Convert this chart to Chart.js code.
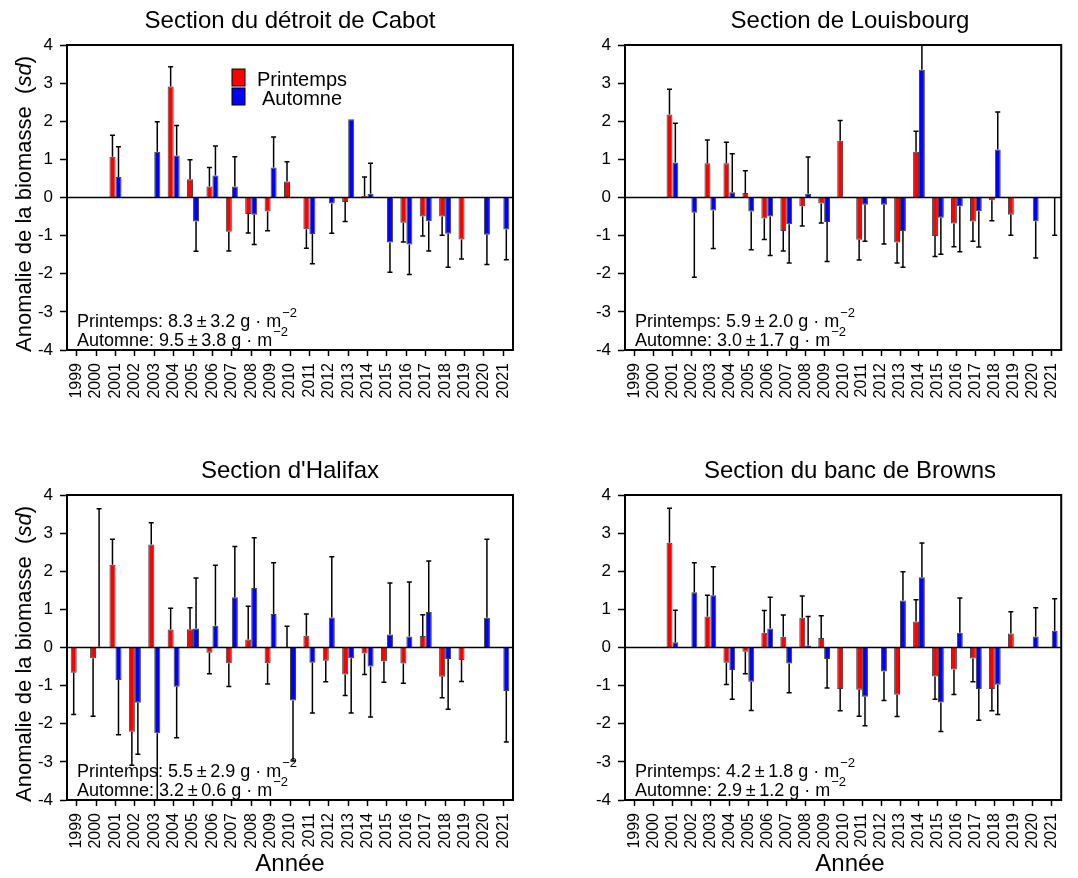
<!DOCTYPE html>
<html lang="fr">
<head>
<meta charset="utf-8">
<title>Anomalie de la biomasse</title>
<script src="https://cdn.jsdelivr.net/npm/chart.js@4"></script>
<style>
  body { margin: 0; background: #fff; font-family: "Liberation Sans", Arial, sans-serif; }
  #page { position: relative; width: 1078px; height: 878px; overflow: hidden; }
  canvas { position: absolute; }
  .titre { position: absolute; width: 500px; text-align: center; font-size: 24px; line-height: 24px; color: #000; white-space: nowrap; }
  .titreY { position: absolute; width: 400px; height: 26px; line-height: 26px; font-size: 22px; text-align: center; transform: rotate(-90deg); white-space: nowrap; }
  .titreX { position: absolute; width: 200px; text-align: center; font-size: 24px; line-height: 24px; }
</style>
</head>
<body>
<div id="page">
  <canvas id="cabot" width="530" height="420" style="left:0;top:0"></canvas>
  <canvas id="louisbourg" width="518" height="420" style="left:560px;top:0"></canvas>
  <canvas id="halifax" width="530" height="420" style="left:0;top:450px"></canvas>
  <canvas id="browns" width="518" height="420" style="left:560px;top:450px"></canvas>

  <div class="titre" style="left:40px;top:8px">Section du détroit de Cabot</div>
  <div class="titre" style="left:600px;top:8px">Section de Louisbourg</div>
  <div class="titre" style="left:40px;top:458px">Section d'Halifax</div>
  <div class="titre" style="left:600px;top:458px">Section du banc de Browns</div>

  <div class="titreY" style="left:-176px;top:191px">Anomalie de la biomasse&nbsp;&nbsp;(<i>sd</i>)</div>
  <div class="titreY" style="left:-176px;top:641px">Anomalie de la biomasse&nbsp;&nbsp;(<i>sd</i>)</div>

  <div class="titreX" style="left:190px;top:851px">Année</div>
  <div class="titreX" style="left:750px;top:851px">Année</div>
</div>
<script>
// Années (axe des x)
const annees = ['1999','2000','2001','2002','2003','2004','2005','2006','2007','2008','2009','2010',
  '2011','2012','2013','2014','2015','2016','2017','2018','2019','2020','2021'];

// Détroit de Cabot
const cabotPrintemps    = [null,null,1.07,null,null,2.91,0.48,0.29,-0.90,-0.43,-0.37,0.42,-0.83,null,-0.12,0.04,null,-0.66,-0.50,-0.50,-1.10,null,null];
const cabotPrintempsErr = [null,null,1.63,null,null,3.43,0.99,0.79,-1.40,-0.93,-0.87,0.94,-1.33,null,-0.63,0.54,null,-1.17,-1.01,-0.99,-1.61,null,null];
const cabotAutomne      = [null,null,0.54,null,1.20,1.10,-0.63,0.58,0.29,-0.45,0.79,null,-0.96,-0.16,2.05,0.10,-1.18,-1.23,-0.62,-0.95,null,-0.98,-0.84];
const cabotAutomneErr   = [null,null,1.33,null,1.99,1.89,-1.41,1.35,1.07,-1.23,1.59,null,-1.74,-0.94,null,0.90,-1.96,-2.02,-1.40,-1.83,null,-1.76,-1.63];

// Louisbourg
const louisPrintemps    = [null,null,2.18,null,0.90,0.90,0.12,-0.55,-0.88,-0.23,-0.16,1.49,-1.11,null,-1.18,1.20,-1.01,-0.68,-0.63,-0.07,-0.45,null,null];
const louisPrintempsErr = [null,null,2.84,null,1.51,1.45,0.70,-1.10,-1.40,-0.75,-0.67,2.02,-1.64,null,-1.72,1.74,-1.55,-1.29,-1.15,-0.61,-0.99,null,null];
const louisAutomne      = [null,null,0.92,-0.40,-0.34,0.14,-0.37,-0.50,-0.70,0.10,-0.64,null,-0.19,-0.19,-0.88,3.35,-0.53,-0.23,-0.36,1.26,null,-0.62,-0.01];
const louisAutomneErr   = [null,null,1.95,-2.09,-1.34,1.15,-1.37,-1.52,-1.72,1.06,-1.68,null,-1.15,-1.22,-1.83,4.30,-1.49,-1.42,-1.30,2.24,null,-1.59,-0.99];

// Halifax
const halPrintemps    = [-0.66,-0.28,2.17,-2.21,2.70,0.47,0.48,-0.14,-0.41,0.21,-0.41,0.01,0.31,-0.35,-0.71,-0.16,-0.36,-0.42,0.30,-0.77,-0.33,null,null];
const halPrintempsErr = [-1.76,-1.80,2.84,-3.09,3.27,1.03,1.04,-0.69,-1.02,1.08,-0.96,0.56,0.88,-0.90,-1.26,-0.71,-0.91,-0.94,0.86,-1.32,-0.89,null,null];
const halAutomne      = [null,0.02,-0.85,-1.45,-2.25,-1.03,0.50,0.57,1.32,1.56,0.88,-1.39,-0.40,0.79,-0.28,-0.50,0.34,0.29,0.93,-0.30,null,0.78,-1.14];
const halAutomneErr   = [null,3.64,-2.29,-2.80,-4.30,-2.37,1.82,2.16,2.65,2.88,2.22,-2.98,-1.72,2.38,-1.72,-1.82,1.69,1.72,2.27,-1.62,null,2.84,-2.48];

// Banc de Browns
const brownsPrintemps    = [null,null,2.75,null,0.81,-0.40,-0.11,0.39,0.28,0.78,0.25,-1.09,-1.11,null,-1.24,0.68,-0.76,-0.58,-0.29,-1.09,0.37,null,null];
const brownsPrintempsErr = [null,null,3.65,null,1.37,-0.97,-0.69,0.97,0.85,1.35,0.83,-1.66,-1.80,null,-1.81,1.25,-1.36,-1.23,-0.90,-1.66,0.94,null,null];
const brownsAutomne      = [null,null,0.14,1.45,1.37,-0.59,-0.90,0.50,-0.42,0.05,-0.30,null,-1.29,-0.63,1.23,1.84,-1.44,0.39,-1.09,-0.98,null,0.29,0.44];
const brownsAutomneErr   = [null,null,0.98,2.22,2.12,-1.36,-1.65,1.32,-1.19,0.81,-1.06,null,-2.05,-1.39,1.99,2.74,-2.20,1.30,-1.91,-1.76,null,1.04,1.28];

// Moyennes affichées dans chaque panneau
const moyPrintemps = ['8.3', '5.9', '5.5', '4.2'];
const ecartPrintemps = ['3.2', '2.0', '2.9', '1.8'];
const moyAutomne = ['9.5', '3.0', '3.2', '2.9'];
const ecartAutomne = ['3.8', '1.7', '0.6', '1.2'];

const ticksY = [-4, -3, -2, -1, 0, 1, 2, 3, 4];

const ROUGE = '#ff0000';
const BLEU = '#0000ff';
const POLICE = '"Liberation Sans", Arial, sans-serif';

// cadre + ligne du zéro
const cadre = {
  id: 'cadre',
  afterDatasetsDraw(chart) {
    const { ctx, chartArea: a, scales: { y } } = chart;
    ctx.save();
    ctx.strokeStyle = '#000';
    ctx.lineWidth = 1.5;
    const y0 = y.getPixelForValue(0);
    ctx.beginPath(); ctx.moveTo(a.left, y0); ctx.lineTo(a.right, y0); ctx.stroke();
    ctx.lineWidth = 2;
    ctx.strokeRect(a.left, a.top, a.right - a.left, a.bottom - a.top);
    ctx.restore();
  }
};

// barres d'erreur (un seul côté, vers l'extérieur)
const barresErreur = {
  id: 'barresErreur',
  afterDatasetsDraw(chart) {
    const { ctx, chartArea: a, scales: { y } } = chart;
    ctx.save();
    ctx.beginPath();
    ctx.rect(a.left, a.top, a.right - a.left, a.bottom - a.top);
    ctx.clip();
    ctx.strokeStyle = '#000';
    ctx.lineWidth = 1.5;
    chart.data.datasets.forEach((ds, di) => {
      const meta = chart.getDatasetMeta(di);
      ds.erreurs.forEach((e, i) => {
        if (e == null) return;
        const b = meta.data[i];
        const yf = y.getPixelForValue(e);
        ctx.beginPath();
        ctx.moveTo(b.x, b.y); ctx.lineTo(b.x, yf);
        ctx.moveTo(b.x - 2.5, yf); ctx.lineTo(b.x + 2.5, yf);
        ctx.stroke();
      });
    });
    ctx.restore();
  }
};

// texte des moyennes + légende
const textes = {
  id: 'textes',
  afterDraw(chart, args, opts) {
    const { ctx, chartArea: a } = chart;
    ctx.save();
    ctx.fillStyle = '#000';
    ctx.textBaseline = 'alphabetic';
    const ligne = (debut, y) => {
      ctx.font = '18px ' + POLICE;
      const x = a.left + 10;
      ctx.fillText(debut, x, y);
      const w = ctx.measureText(debut).width;
      ctx.font = '13px ' + POLICE;
      ctx.fillText('\u22122', x + w + 1, y - 10);
    };
    ligne('Printemps: ' + opts.p + '\u2009\u00b1\u2009' + opts.pe + ' g \u00b7 m', a.top + 282);
    ligne('Automne: ' + opts.a + '\u2009\u00b1\u2009' + opts.ae + ' g \u00b7 m', a.top + 301);

    if (opts.legende) {
      const lx = a.left + 165, ly = a.top + 24;
      ctx.lineWidth = 1;
      ctx.strokeStyle = '#000';
      ctx.fillStyle = ROUGE; ctx.fillRect(lx, ly, 13, 17); ctx.strokeRect(lx, ly, 13, 17);
      ctx.fillStyle = BLEU; ctx.fillRect(lx, ly + 19, 13, 17); ctx.strokeRect(lx, ly + 19, 13, 17);
      ctx.fillStyle = '#000';
      ctx.font = '20px ' + POLICE;
      ctx.fillText('Printemps', lx + 25, ly + 17);
      ctx.fillText('Automne', lx + 30, ly + 36);
    }
    ctx.restore();
  }
};

function panneau(id, rouge, rougeErr, bleu, bleuErr, k, largY, droite, legende) {
  return new Chart(document.getElementById(id), {
    type: 'bar',
    data: {
      labels: annees,
      datasets: [
        { label: 'Printemps', data: rouge, erreurs: rougeErr, backgroundColor: ROUGE,
          borderColor: 'rgba(0,0,0,0.75)', borderWidth: 1 },
        { label: 'Automne', data: bleu, erreurs: bleuErr, backgroundColor: BLEU,
          borderColor: 'rgba(0,0,0,0.75)', borderWidth: 1 }
      ]
    },
    options: {
      responsive: false,
      animation: false,
      devicePixelRatio: 1,
      categoryPercentage: 0.62,
      barPercentage: 1.0,
      layout: { padding: { top: 45, right: droite, left: 0, bottom: 0 } },
      plugins: {
        legend: { display: false },
        tooltip: { enabled: false },
        textes: { p: moyPrintemps[k], pe: ecartPrintemps[k], a: moyAutomne[k], ae: ecartAutomne[k], legende }
      },
      scales: {
        x: {
          offset: true,
          grid: { offset: false, drawOnChartArea: false, tickLength: 6, tickWidth: 1.5, tickColor: '#000' },
          border: { display: false },
          ticks: { autoSkip: false, minRotation: 90, maxRotation: 90, padding: 7,
                   color: '#000', font: { family: POLICE, size: 16 } },
          afterFit: s => { s.height = 70; }
        },
        y: {
          min: -4, max: 4,
          afterBuildTicks: s => { s.ticks = ticksY.map(v => ({ value: v })); },
          grid: { drawOnChartArea: false, tickLength: 7, tickWidth: 1.5, tickColor: '#000' },
          border: { display: true, color: '#000', width: 2 },
          ticks: { padding: 7, color: '#000', font: { family: POLICE, size: 17 } },
          afterFit: s => { s.width = largY; }
        }
      }
    },
    plugins: [cadre, barresErreur, textes]
  });
}

panneau('cabot', cabotPrintemps, cabotPrintempsErr, cabotAutomne, cabotAutomneErr, 0, 67, 17, true);
panneau('louisbourg', louisPrintemps, louisPrintempsErr, louisAutomne, louisAutomneErr, 1, 65, 3, false);
panneau('halifax', halPrintemps, halPrintempsErr, halAutomne, halAutomneErr, 2, 67, 17, false);
panneau('browns', brownsPrintemps, brownsPrintempsErr, brownsAutomne, brownsAutomneErr, 3, 65, 3, false);
</script>
</body>
</html>
